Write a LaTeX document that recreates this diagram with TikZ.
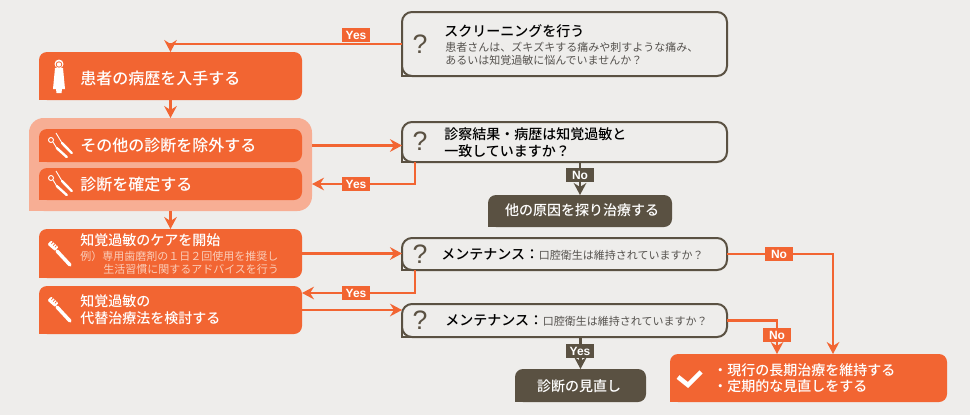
\documentclass[tikz,border=0pt]{standalone}
\usepackage{fontspec}
\setmainfont[BoldFont={Noto Sans CJK JP Medium}]{Noto Sans CJK JP}
\newfontfamily\latinbold{Liberation Sans}
\definecolor{orange1}{RGB}{242, 101, 50}
\definecolor{orange2}{RGB}{247, 174, 148}
\definecolor{paleorange}{RGB}{250, 205, 185}
\definecolor{dark1}{RGB}{90, 81, 66}
\definecolor{paper}{RGB}{238, 237, 235}
\definecolor{graytext}{RGB}{85, 82, 78}
\usetikzlibrary{arrows.meta, fit}
\newcommand{\fs}[1]{\fontsize{#1}{#1}\selectfont}
\tikzset{
  flat/.style={append after command={\pgfextra{\fill[#1, sharp corners] (\tikzlastnode.south west) rectangle +(7pt,7pt);}}},
  orangebox/.style={fill=orange1, rounded corners=6pt, inner sep=0pt, outer sep=0pt, flat=orange1},
  darkbox/.style={fill=dark1, rounded corners=6pt, inner sep=0pt, outer sep=0pt, flat=dark1},
  groupbox/.style={fill=orange2, rounded corners=11pt, inner sep=0pt, outer sep=0pt,
    append after command={\pgfextra{\fill[orange2, sharp corners] (\tikzlastnode.south west) rectangle +(12pt,12pt);}}},
  askbox/.style={draw=dark1, fill=paper, line width=1.5pt, rounded corners=7.5pt, inner sep=0pt, outer sep=0pt,
    append after command={\pgfextra{\draw[dark1, line width=1.5pt, sharp corners] (\tikzlastnode.south west) ++(0,9pt) -- ++(0,-9pt) -- ++(9pt,0);}}},
  head/.style={anchor=west, text=white, font=\fs{12}\bfseries, inner sep=0pt},
  headsm/.style={anchor=west, text=white, font=\fs{10.5}\bfseries, inner sep=0pt},
  sub/.style={anchor=west, text=paleorange, font=\fs{8.25}, inner sep=0pt},
  askhead/.style={anchor=west, text=black, font=\fs{10.5}\bfseries, inner sep=0pt},
  asksub/.style={anchor=west, text=graytext, font=\fs{8.25}, inner sep=0pt},
  asksign/.style={text=dark1, font=\latinbold\fs{20}, inner sep=0pt},
  darklabel/.style={text=white, font=\fs{10.5}\bfseries, inner sep=0pt},
  tagorange/.style={fill=orange1, text=white, font=\latinbold\fs{9}\bfseries, minimum width=21pt, minimum height=10.5pt, inner sep=0pt},
  tagdark/.style={fill=dark1, text=white, font=\latinbold\fs{9}\bfseries, minimum width=21pt, minimum height=10.5pt, inner sep=0pt},
  flow/.style={draw=orange1, line width=2.2pt, -{Stealth[length=9pt, width=9.5pt, inset=3pt]}},
  flowdark/.style={draw=dark1, line width=2.2pt, -{Stealth[length=9pt, width=9.5pt, inset=3pt]}},
  patienticon/.pic={
    \fill[white] (0,-13) circle (4.5);
    \fill[orange1] (0,-12.5) circle (3.2);
    \fill[white] (0,-12.5) circle (2.2);
    \fill[white] (-4,-9) -- (4,-9) -- (6,12) -- (3,12) -- (2.5,16) -- (-2.5,16) -- (-3,12) -- (-6,12) -- cycle;
  },
  probeicon/.pic={
    \draw[white, line width=0.7pt] (-8,-7) circle (2.5);
    \draw[white, line width=0.7pt] (-6,-5) -- (-2.3,1);
    \draw[white, line width=1.8pt, line cap=round] (-2.3,1) -- (7.7,10);
    \draw[white, line width=0.7pt] (-3,-14) -- (3,-4);
    \draw[white, line width=1.8pt, line cap=round] (3,-4) -- (12.7,6);
  },
  brushicon/.pic={
    \draw[white, line width=2.6pt, line cap=round] (-3,-3) -- (10,11);
    \fill[white, rounded corners=0.8pt] (-12.5,-9.5) -- (-5,-3) -- (-1.5,-7) -- (-9,-13.5) -- cycle;
    \foreach \bx/\by in {-7.1/-11.9, -5.25/-10.25, -3.4/-8.6}
      \draw[orange1, line width=0.5pt] (\bx,\by) -- ++(-1.6,1.9);
  }
}
\begin{document}
\begin{tikzpicture}[x=0.75pt, y=-0.75pt]
  \fill[paper] (0,0) rectangle (970,415);
  \useasboundingbox (0,0) rectangle (970,415);

  \node[orangebox, fit={(39,52)(302,100)}] (patient) {};
  \node[groupbox, fit={(29,118)(312,211)}] (group) {};
  \node[orangebox, fit={(39,129)(302,162)}] (exclude) {};
  \node[orangebox, fit={(39,168)(302,200)}] (confirm) {};
  \node[orangebox, fit={(39,229)(302,278)}] (care) {};
  \node[orangebox, fit={(39,286)(302,334)}] (alt) {};

  \node[askbox, fit={(402,12)(727,76)}] (screen) {};
  \node[askbox, fit={(402,122)(727,162)}] (match) {};
  \node[askbox, fit={(402,238)(727,270)}] (keepa) {};
  \node[askbox, fit={(402,304)(727,337)}] (keepb) {};

  \node[darkbox, fit={(488,195)(672,227)}] (other) {};
  \node[darkbox, fit={(515,369)(646,402)}] (review) {};
  \node[orangebox, fit={(670,354)(947,402)}] (final) {};

  \coordinate (yesa) at (415,184);
  \coordinate (yesb) at (415,293);
  \coordinate (noa) at (833,354);
  \coordinate (nob) at (777,354);
  \coordinate (downa) at (415,162);
  \coordinate (downb) at (415,270);

  \draw[flow] (screen.west) -| (patient.north);
  \draw[flow] (patient.south) -- (group.north);
  \draw[flow] (exclude.east -| group.east) -- (exclude.east -| match.west);
  \draw[flow] (downa) |- (yesa) -- (yesa -| group.east);
  \draw[flow] (group.south) -- (care.north);
  \draw[flow] (care.east) -- (care.east -| keepa.west);
  \draw[flow] (downb) |- (yesb) -- (yesb -| alt.east);
  \draw[flow] (alt.east) -- (alt.east -| keepb.west);
  \draw[flow] (keepa.east) -| (noa);
  \draw[flow] (keepb.east) -| (nob);
  \draw[flowdark] (match.south -| other.north) -- (other.north);
  \draw[flowdark] (keepb.south -| review.north) -- (review.north);

  \node[tagorange] (yes1) at (356,35) {Yes};
  \node[tagorange] (yes2) at (356,184) {Yes};
  \node[tagorange] (yes3) at (356,293) {Yes};
  \node[tagorange] (no1) at (779,254) {No};
  \node[tagorange] (no2) at (777,335) {No};
  \node[tagdark] (no3) at (580,175) {No};
  \node[tagdark] (yes4) at (580,351) {Yes};

  \node[head] (tpatient) at (80,78) {患者の病歴を入手する};
  \node[head] (texclude) at (80,145) {その他の診断を除外する};
  \node[head] (tconfirm) at (80,184) {診断を確定する};
  \node[headsm] (tcare) at (80,240) {知覚過敏のケアを開始};
  \node[sub] (tcarea) at (80,256) {例）専用歯磨剤の１日２回使用を推奨し};
  \node[sub] (tcareb) at (103,269) {生活習慣に関するアドバイスを行う};
  \node[headsm] (talta) at (80,301) {知覚過敏の};
  \node[headsm] (taltb) at (80,318) {代替治療法を検討する};

  \node[askhead] (tscreen) at (444,31) {スクリーニングを行う};
  \node[asksub] (tscreena) at (445,47) {患者さんは、ズキズキする痛みや刺すような痛み、};
  \node[asksub] (tscreenb) at (445,60) {あるいは知覚過敏に悩んでいませんか？};
  \node[askhead] (tmatcha) at (444,134) {診察結果・病歴は知覚過敏と};
  \node[askhead] (tmatchb) at (444,151) {一致していますか？};
  \node[askhead] (tkeepa) at (441,254) {メンテナンス：{\color{graytext}\mdseries\fs{8.25}口腔衛生は維持されていますか？}};
  \node[askhead] (tkeepb) at (445,320) {メンテナンス：{\color{graytext}\mdseries\fs{8.25}口腔衛生は維持されていますか？}};

  \node[asksign] (qa) at (420,44) {?};
  \node[asksign] (qb) at (420,141) {?};
  \node[asksign] (qc) at (420,254) {?};
  \node[asksign] (qd) at (420,320) {?};

  \node[darklabel] (tother) at (582,210) {他の原因を探り治療する};
  \node[darklabel] (treview) at (579,386) {診断の見直し};
  \node[headsm] (tfinala) at (713,370) {・現行の長期治療を維持する};
  \node[headsm] (tfinalb) at (713,386) {・定期的な見直しをする};

  \pic at (59,77) {patienticon};
  \pic at (59,147) {probeicon};
  \pic at (59,185) {probeicon};
  \pic at (60,254) {brushicon};
  \pic at (60,310) {brushicon};
  \draw[white, line width=3.4pt] (678,377) -- (688,385) -- (701,372);
\end{tikzpicture}
\end{document}
